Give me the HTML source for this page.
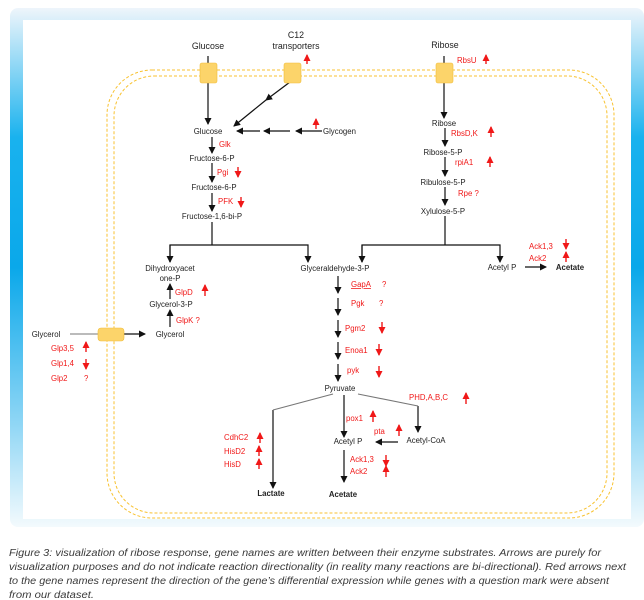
<!DOCTYPE html>
<html><head><meta charset="utf-8"><style>
html,body{margin:0;padding:0;background:#fff;}
svg{display:block;font-family:"Liberation Sans",sans-serif;}
.k{font-size:7.8px;fill:#222;}
.r{font-size:7.8px;fill:#f01818;}
.c{font-size:9.8px;fill:#3a3a3a;font-style:italic;}
</style></head><body>
<svg width="644" height="600" viewBox="0 0 644 600" xmlns="http://www.w3.org/2000/svg">
<defs>
<linearGradient id="bg" x1="0" y1="0" x2="0" y2="1">
<stop offset="0" stop-color="#eef5fb"/><stop offset="0.25" stop-color="#19b2ee"/><stop offset="0.5" stop-color="#0aa8ea"/><stop offset="0.8" stop-color="#8fd6f5"/><stop offset="1" stop-color="#f3fafd"/>
</linearGradient>
<marker id="a" markerWidth="8" markerHeight="8" refX="6" refY="4" orient="auto" markerUnits="userSpaceOnUse"><path d="M0,0.5 L7,4 L0,7.5z" fill="#111"/></marker>
<marker id="ar" markerWidth="8" markerHeight="8" refX="6" refY="4" orient="auto" markerUnits="userSpaceOnUse"><path d="M0,0.5 L7,4 L0,7.5z" fill="#f01818"/></marker>
</defs>
<rect x="10" y="8" width="634" height="519" rx="8" fill="url(#bg)"/>
<rect x="23" y="20" width="608" height="499" fill="#fff"/>
<rect x="107" y="70" width="507" height="448" rx="45" fill="none" stroke="#f8c230" stroke-width="1" stroke-dasharray="3,2"/>
<rect x="114" y="76" width="493" height="437" rx="40" fill="none" stroke="#f8c230" stroke-width="1" stroke-dasharray="3,2"/>
<g stroke="#111" stroke-width="1.2" fill="none">
<line x1="208" y1="56" x2="208" y2="64"/>
<line x1="444" y1="56" x2="444" y2="64"/>
<line x1="208" y1="82" x2="208" y2="124" marker-end="url(#a)"/>
<line x1="290" y1="82" x2="266" y2="100" marker-end="url(#a)"/>
<line x1="266" y1="100" x2="234" y2="126" marker-end="url(#a)"/>
<line x1="322" y1="131" x2="296" y2="131" marker-end="url(#a)"/>
<line x1="290" y1="131" x2="264" y2="131" marker-end="url(#a)"/>
<line x1="260" y1="131" x2="237" y2="131" marker-end="url(#a)"/>
<line x1="212" y1="137" x2="212" y2="153" marker-end="url(#a)"/>
<line x1="212" y1="163" x2="212" y2="182" marker-end="url(#a)"/>
<line x1="212" y1="193" x2="212" y2="211" marker-end="url(#a)"/>
<line x1="212" y1="222" x2="212" y2="245"/>
<polyline points="170,262 170,245 308,245 308,262" marker-end="url(#a)"/>
<line x1="170" y1="245" x2="170" y2="262" marker-end="url(#a)"/>
<line x1="444" y1="82" x2="444" y2="118" marker-end="url(#a)"/>
<line x1="445" y1="128" x2="445" y2="146" marker-end="url(#a)"/>
<line x1="445" y1="157" x2="445" y2="176" marker-end="url(#a)"/>
<line x1="445" y1="187" x2="445" y2="205" marker-end="url(#a)"/>
<line x1="445" y1="216" x2="445" y2="245"/>
<polyline points="362,262 362,245 500,245 500,262" marker-end="url(#a)"/>
<line x1="362" y1="245" x2="362" y2="262" marker-end="url(#a)"/>
<line x1="525" y1="267" x2="546" y2="267" marker-end="url(#a)"/>
<line x1="338" y1="276" x2="338" y2="293" marker-end="url(#a)"/>
<line x1="338" y1="298" x2="338" y2="315" marker-end="url(#a)"/>
<line x1="338" y1="320" x2="338" y2="337" marker-end="url(#a)"/>
<line x1="338" y1="342" x2="338" y2="359" marker-end="url(#a)"/>
<line x1="338" y1="364" x2="338" y2="381" marker-end="url(#a)"/>
<line x1="170" y1="327" x2="170" y2="310" marker-end="url(#a)"/>
<line x1="170" y1="299" x2="170" y2="284" marker-end="url(#a)"/>
<line x1="124" y1="334" x2="145" y2="334" marker-end="url(#a)"/>
<line x1="344" y1="395" x2="344" y2="437" marker-end="url(#a)"/>
<line x1="418" y1="406" x2="418" y2="432" marker-end="url(#a)"/>
<line x1="398" y1="442" x2="376" y2="442" marker-end="url(#a)"/>
<line x1="344" y1="450" x2="344" y2="482" marker-end="url(#a)"/>
<line x1="273" y1="410" x2="273" y2="488" marker-end="url(#a)"/>
</g>
<g stroke="#777" stroke-width="1.1" fill="none">
<line x1="333" y1="394" x2="273" y2="410"/>
<line x1="358" y1="394" x2="418" y2="406"/>
<line x1="70" y1="334" x2="99" y2="334"/>
</g>
<g fill="#fcd46a" stroke="#f1bd3a" stroke-width="0.6">
<rect x="200" y="63" width="17" height="20" rx="2"/>
<rect x="284" y="63" width="17" height="20" rx="2"/>
<rect x="436" y="63" width="17" height="20" rx="2"/>
<rect x="98" y="328" width="26" height="13" rx="3"/>
</g>
<g class="k" text-anchor="middle">
<text x="208" y="49" font-size="8.8">Glucose</text>
<text x="296" y="38" font-size="8.8">C12</text>
<text x="296" y="49" font-size="8.8">transporters</text>
<text x="445" y="48" font-size="8.8">Ribose</text>
<text x="208" y="134">Glucose</text>
<text x="212" y="161">Fructose-6-P</text>
<text x="214" y="190">Fructose-6-P</text>
<text x="212" y="219">Fructose-1,6-bi-P</text>
<text x="170" y="271">Dihydroxyacet</text>
<text x="170" y="281">one-P</text>
<text x="335" y="271">Glyceraldehyde-3-P</text>
<text x="444" y="126">Ribose</text>
<text x="443" y="155">Ribose-5-P</text>
<text x="443" y="185">Ribulose-5-P</text>
<text x="443" y="214">Xylulose-5-P</text>
<text x="502" y="270">Acetyl P</text>
<text x="570" y="270" font-weight="bold">Acetate</text>
<text x="171" y="307">Glycerol-3-P</text>
<text x="170" y="337">Glycerol</text>
<text x="46" y="337">Glycerol</text>
<text x="340" y="391">Pyruvate</text>
<text x="348" y="444">Acetyl P</text>
<text x="426" y="443">Acetyl-CoA</text>
<text x="271" y="496" font-weight="bold">Lactate</text>
<text x="343" y="497" font-weight="bold">Acetate</text>
</g>
<text class="k" x="323" y="134">Glycogen</text>
<g class="r">
<text x="219" y="147">Glk</text>
<text x="217" y="175">Pgi</text>
<text x="218" y="204">PFK</text>
<text x="457" y="63">RbsU</text>
<text x="451" y="136">RbsD,K</text>
<text x="455" y="165">rpiA1</text>
<text x="458" y="196">Rpe ?</text>
<text x="529" y="249">Ack1,3</text>
<text x="529" y="261">Ack2</text>
<text x="351" y="287" text-decoration="underline">GapA</text><text x="382" y="287">?</text>
<text x="351" y="306">Pgk</text><text x="379" y="306">?</text>
<text x="345" y="331">Pgm2</text>
<text x="345" y="353">Enoa1</text>
<text x="347" y="373">pyk</text>
<text x="175" y="295">GlpD</text>
<text x="176" y="323">GlpK ?</text>
<text x="51" y="351">Glp3,5</text>
<text x="51" y="366">Glp1,4</text>
<text x="51" y="381">Glp2</text><text x="84" y="381">?</text>
<text x="409" y="400">PHD,A,B,C</text>
<text x="346" y="421">pox1</text>
<text x="374" y="434">pta</text>
<text x="224" y="440">CdhC2</text>
<text x="224" y="454">HisD2</text>
<text x="224" y="467">HisD</text>
<text x="350" y="462">Ack1,3</text>
<text x="350" y="474">Ack2</text>
</g>
<g stroke="#f01818" stroke-width="1.4">
<line x1="307" y1="64" x2="307" y2="55" marker-end="url(#ar)"/>
<line x1="486" y1="64" x2="486" y2="55" marker-end="url(#ar)"/>
<line x1="316" y1="129" x2="316" y2="119" marker-end="url(#ar)"/>
<line x1="238" y1="167" x2="238" y2="177" marker-end="url(#ar)"/>
<line x1="241" y1="197" x2="241" y2="207" marker-end="url(#ar)"/>
<line x1="491" y1="137" x2="491" y2="127" marker-end="url(#ar)"/>
<line x1="490" y1="167" x2="490" y2="157" marker-end="url(#ar)"/>
<line x1="566" y1="239" x2="566" y2="249" marker-end="url(#ar)"/>
<line x1="566" y1="262" x2="566" y2="252" marker-end="url(#ar)"/>
<line x1="382" y1="322" x2="382" y2="333" marker-end="url(#ar)"/>
<line x1="379" y1="344" x2="379" y2="355" marker-end="url(#ar)"/>
<line x1="379" y1="366" x2="379" y2="377" marker-end="url(#ar)"/>
<line x1="205" y1="296" x2="205" y2="285" marker-end="url(#ar)"/>
<line x1="86" y1="352" x2="86" y2="342" marker-end="url(#ar)"/>
<line x1="86" y1="359" x2="86" y2="369" marker-end="url(#ar)"/>
<line x1="466" y1="404" x2="466" y2="393" marker-end="url(#ar)"/>
<line x1="373" y1="422" x2="373" y2="411" marker-end="url(#ar)"/>
<line x1="399" y1="436" x2="399" y2="425" marker-end="url(#ar)"/>
<line x1="260" y1="443" x2="260" y2="433" marker-end="url(#ar)"/>
<line x1="259" y1="456" x2="259" y2="446" marker-end="url(#ar)"/>
<line x1="259" y1="469" x2="259" y2="459" marker-end="url(#ar)"/>
<line x1="386" y1="455" x2="386" y2="466" marker-end="url(#ar)"/>
<line x1="386" y1="477" x2="386" y2="466" marker-end="url(#ar)"/>
</g>
<g class="c">
<text x="9" y="556" textLength="592" lengthAdjust="spacingAndGlyphs">Figure 3: visualization of ribose response, gene names are written between their enzyme substrates. Arrows are purely for</text>
<text x="9" y="570" textLength="617" lengthAdjust="spacingAndGlyphs">visualization purposes and do not indicate reaction directionality (in reality many reactions are bi-directional). Red arrows next</text>
<text x="9" y="584" textLength="600" lengthAdjust="spacingAndGlyphs">to the gene names represent the direction of the gene’s differential expression while genes with a question mark were absent</text>
<text x="9" y="598" textLength="85" lengthAdjust="spacingAndGlyphs">from our dataset.</text>
</g>
</svg>
</body></html>
